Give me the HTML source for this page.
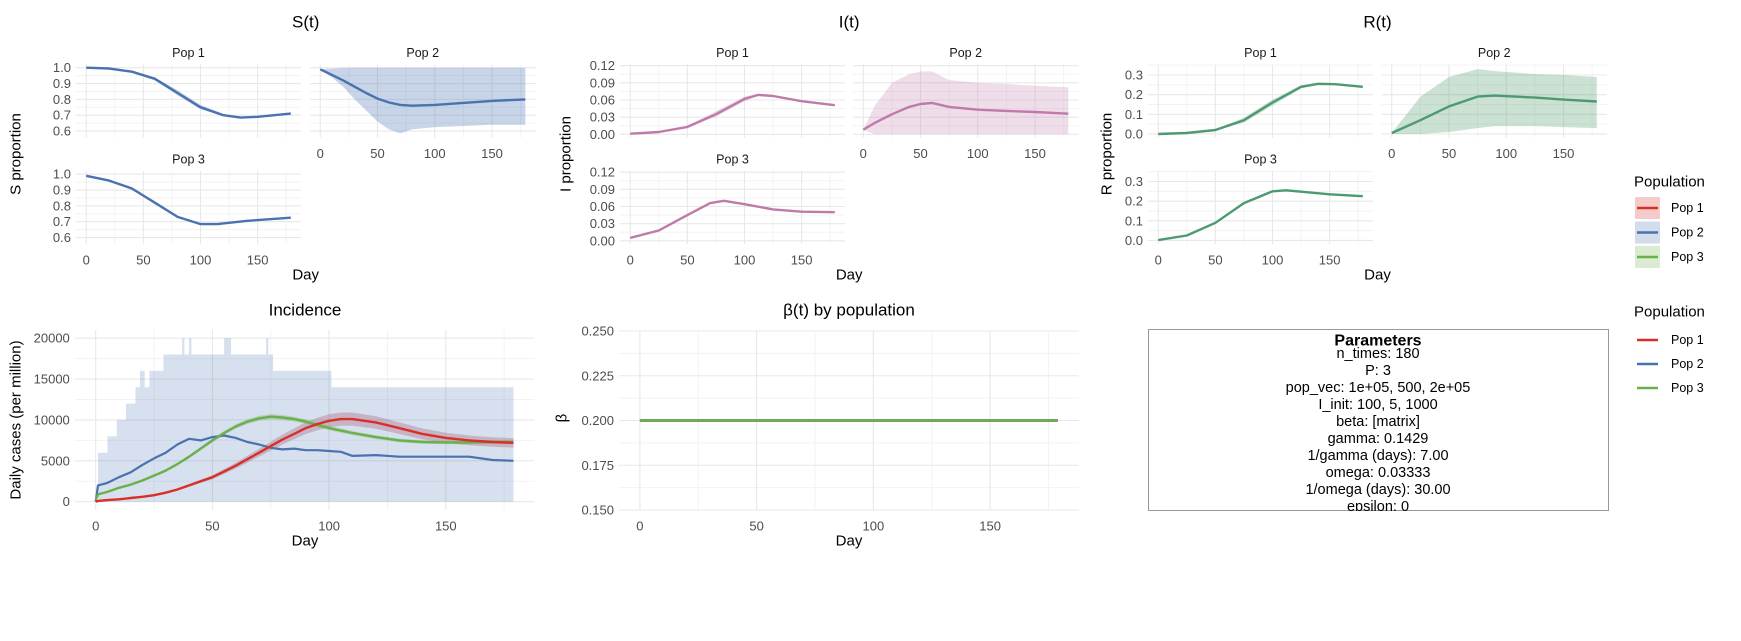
<!DOCTYPE html>
<html><head><meta charset="utf-8">
<style>
body{margin:0;background:#fff;}
svg text{font-family:"Liberation Sans",Arial,sans-serif;}
</style></head>
<body>
<svg id="chart" width="1741" height="636" viewBox="0 0 1741 636" xmlns="http://www.w3.org/2000/svg">
<rect width="1741" height="636" fill="#fff"/>
</svg>
<script>
// ---------- data ----------
const sDays1 = [0,20,40,60,80,100,120,135,150,179];
const sPop1 = [1.0,0.995,0.975,0.93,0.84,0.75,0.70,0.685,0.69,0.71];
const sPop1Lo = [1.0,0.994,0.972,0.922,0.825,0.738,0.695,0.683,0.689,0.709];
const sPop1Hi = [1.0,0.996,0.978,0.94,0.858,0.765,0.708,0.688,0.692,0.712];
const sDays2 = [0,10,20,30,40,50,60,70,80,100,120,150,179];
const sPop2 = [0.99,0.955,0.92,0.88,0.84,0.805,0.78,0.765,0.76,0.765,0.775,0.79,0.80];
const sPop2Lo = [0.99,0.94,0.88,0.80,0.73,0.66,0.61,0.585,0.61,0.625,0.63,0.64,0.64];
const sPop2Hi = [0.99,0.995,0.998,1.0,1.0,1.0,1.0,1.0,1.0,1.0,1.0,1.0,1.0];
const sDays3 = [0,20,40,60,80,100,115,140,179];
const sPop3 = [0.99,0.96,0.91,0.82,0.73,0.685,0.685,0.705,0.725];

const iDays1 = [0,25,50,75,100,112,125,150,179];
const iPop1 = [0.001,0.004,0.013,0.035,0.062,0.069,0.067,0.058,0.051];
const iPop1Lo = [0.001,0.004,0.012,0.031,0.058,0.067,0.066,0.057,0.050];
const iPop1Hi = [0.001,0.005,0.015,0.040,0.066,0.071,0.068,0.059,0.052];
const iDays2 = [0,10,25,40,50,60,75,100,125,150,179];
const iPop2 = [0.008,0.02,0.035,0.048,0.053,0.055,0.048,0.043,0.041,0.039,0.036];
const iPop2Lo = [0.008,0.0,0.0,0.0,0.0,0.0,0.0,0.0,0.0,0.0,0.0];
const iPop2Hi = [0.008,0.05,0.09,0.105,0.11,0.11,0.095,0.09,0.088,0.085,0.082];
const iDays3 = [0,25,50,70,82,100,125,150,179];
const iPop3 = [0.005,0.018,0.045,0.066,0.07,0.064,0.055,0.051,0.050];

const rDays1 = [0,25,50,75,100,125,140,155,179];
const rPop1 = [0,0.005,0.02,0.07,0.16,0.24,0.255,0.253,0.24];
const rPop1Lo = [0,0.004,0.017,0.058,0.145,0.232,0.253,0.252,0.239];
const rPop1Hi = [0,0.006,0.024,0.082,0.175,0.248,0.258,0.254,0.241];
const rDays2 = [0,25,50,75,90,125,150,179];
const rPop2 = [0.005,0.07,0.14,0.19,0.195,0.185,0.175,0.165];
const rPop2Lo = [0.0,0.0,0.01,0.03,0.04,0.04,0.035,0.03];
const rPop2Hi = [0.005,0.19,0.29,0.33,0.32,0.305,0.30,0.29];
const rDays3 = [0,25,50,75,100,112,150,179];
const rPop3 = [0.002,0.025,0.09,0.19,0.25,0.255,0.235,0.225];

const incDays = [0,1,5,10,15,20,25,30,35,40,45,50,55,60,65,70,75,80,85,90,95,100,105,110,120,130,140,150,160,170,179];
const incPop1 = [0,100,200,300,450,600,800,1100,1500,2000,2500,3000,3700,4400,5200,6000,6800,7600,8300,9000,9500,9900,10100,10100,9700,9000,8300,7800,7500,7300,7200];
const incPop2 = [0,2000,2300,3000,3600,4500,5300,6000,7000,7700,7500,7900,8100,7800,7300,7000,6600,6400,6500,6300,6300,6200,6100,5600,5700,5500,5500,5500,5500,5100,5000];
const incPop3 = [200,900,1200,1700,2100,2600,3200,3800,4600,5500,6500,7500,8400,9200,9800,10200,10400,10300,10100,9800,9400,9000,8700,8400,7900,7500,7300,7250,7250,7300,7300];
const incRibDays = [0,1,5,9,13,17,19,21,23,29,33,37,38,40,41,55,57,58,63,67,73,74,76,80,100,101,179];
const incRibHi = [0,6000,8000,10000,12000,14000,16000,14000,16000,18000,18000,20000,18000,20000,18000,20000,20000,18000,18000,18000,20000,18000,16000,16000,16000,14000,14000];

const betaDays = [0,179];
const betaPop1 = [0.2,0.2];
const betaPop2 = [0.2,0.2];
const betaPop3 = [0.2,0.2];

// ---------- helpers ----------
const svg = document.getElementById('chart');
const NS = 'http://www.w3.org/2000/svg';
function mk(tag, attrs, parent){
  const e = document.createElementNS(NS, tag);
  for (const k in attrs) e.setAttribute(k, attrs[k]);
  (parent||svg).appendChild(e);
  return e;
}
function txt(str, x, y, size, color, anchor, parent, extra){
  const t = mk('text', Object.assign({x:x, y:y, 'font-size':size, fill:color, 'text-anchor':anchor||'middle', 'dominant-baseline':'central'}, extra||{}), parent);
  t.textContent = str;
  return t;
}
function linePath(xs, ys, sx, sy){
  return xs.map((d,i)=>(i?'L':'M')+sx(d).toFixed(1)+','+sy(ys[i]).toFixed(1)).join('');
}
function ribbonPath(xs, lo, hi, sx, sy){
  let p = xs.map((d,i)=>(i?'L':'M')+sx(d).toFixed(1)+','+sy(hi[i]).toFixed(1)).join('');
  for (let i=xs.length-1;i>=0;i--) p += 'L'+sx(xs[i]).toFixed(1)+','+sy(lo[i]).toFixed(1);
  return p+'Z';
}
function stepPath(xs, hi, sx, sy, base){
  let p = 'M'+sx(xs[0]).toFixed(1)+','+sy(base).toFixed(1);
  for (let i=0;i<xs.length;i++){
    if (i>0) p += 'L'+sx(xs[i]).toFixed(1)+','+sy(hi[i-1]).toFixed(1);
    p += 'L'+sx(xs[i]).toFixed(1)+','+sy(hi[i]).toFixed(1);
  }
  p += 'L'+sx(xs[xs.length-1]).toFixed(1)+','+sy(base).toFixed(1)+'Z';
  return p;
}

// panel: left, right, top, bottom in px; xdom, ydom
function panel(name, L, R, T, B, xdom, ydom, yMajor, yLabels, yMinor, xMajor, xMinor, showX, showY){
  const g = mk('g', {});
  
  
  const sx = v => L + (v - xdom[0])/(xdom[1]-xdom[0])*(R-L);
  const sy = v => B - (v - ydom[0])/(ydom[1]-ydom[0])*(B-T);
  yMinor.forEach(v=>mk('line',{x1:L,x2:R,y1:sy(v),y2:sy(v),stroke:'#f3f3f3','stroke-width':1},g));
  xMinor.forEach(v=>mk('line',{x1:sx(v),x2:sx(v),y1:T,y2:B,stroke:'#f3f3f3','stroke-width':1},g));
  yMajor.forEach(v=>mk('line',{x1:L,x2:R,y1:sy(v),y2:sy(v),stroke:'#e8e8e8','stroke-width':1.1},g));
  xMajor.forEach(v=>mk('line',{x1:sx(v),x2:sx(v),y1:T,y2:B,stroke:'#e8e8e8','stroke-width':1.1},g));
  if (showY) yMajor.forEach((v,i)=>{
    const t = txt(yLabels[i], L-5, sy(v), 13, '#4d4d4d', 'end', g);
    
    
  });
  if (showX) xMajor.forEach(v=>{
    const t = txt(String(v), sx(v), B+16, 13, '#4d4d4d', 'middle', g);
    
    
  });
  return {g, sx, sy};
}
function addPath(g, d, fill, stroke, sw, opacity, name){
  const p = mk('path', {d:d, fill:fill, stroke:stroke, 'stroke-width':sw, 'fill-opacity':opacity, 'stroke-linejoin':'round'}, g);
  
  
  return p;
}

const XD = [-8.95, 187.95];
const xMaj = [0,50,100,150], xMin = [25,75,125,175];
const rowOff = 106.5;
const T1 = 64.4, B1 = 137.5;

// ---------- S(t) ----------
const sDom = [0.559, 1.021];
const sMaj = [0.6,0.7,0.8,0.9,1.0], sLab = ['0.6','0.7','0.8','0.9','1.0'], sMin = [0.65,0.75,0.85,0.95];
const SC = '#4a72b0';
let p = panel('s-pop1-panel', 76, 301, T1, B1, XD, sDom, sMaj, sLab, sMin, xMaj, xMin, false, true);
addPath(p.g, ribbonPath(sDays1, sPop1Lo, sPop1Hi, p.sx, p.sy), SC, 'none', 0, 0.3, 's-pop1-ribbon');
addPath(p.g, linePath(sDays1, sPop1, p.sx, p.sy), 'none', SC, 2.4, 1, 's-pop1-line');
p = panel('s-pop2-panel', 310, 535.5, T1, B1, XD, sDom, sMaj, sLab, sMin, xMaj, xMin, true, false);
addPath(p.g, ribbonPath(sDays2, sPop2Lo, sPop2Hi, p.sx, p.sy), SC, 'none', 0, 0.3, 's-pop2-ribbon');
addPath(p.g, linePath(sDays2, sPop2, p.sx, p.sy), 'none', SC, 2.4, 1, 's-pop2-line');
p = panel('s-pop3-panel', 76, 301, T1+rowOff, B1+rowOff, XD, sDom, sMaj, sLab, sMin, xMaj, xMin, true, true);
addPath(p.g, linePath(sDays3, sPop3, p.sx, p.sy), 'none', SC, 2.4, 1, 's-pop3-line');

// ---------- I(t) ----------
const iDom = [-0.0056, 0.1223];
const iMaj = [0,0.03,0.06,0.09,0.12], iLab = ['0.00','0.03','0.06','0.09','0.12'], iMin = [0.015,0.045,0.075,0.105];
const IC = '#c07aa9';
p = panel('i-pop1-panel', 620, 845, T1, B1, XD, iDom, iMaj, iLab, iMin, xMaj, xMin, false, true);
addPath(p.g, ribbonPath(iDays1, iPop1Lo, iPop1Hi, p.sx, p.sy), IC, 'none', 0, 0.3, 'i-pop1-ribbon');
addPath(p.g, linePath(iDays1, iPop1, p.sx, p.sy), 'none', IC, 2.4, 1, 'i-pop1-line');
p = panel('i-pop2-panel', 853, 1078.5, T1, B1, XD, iDom, iMaj, iLab, iMin, xMaj, xMin, true, false);
addPath(p.g, ribbonPath(iDays2, iPop2Lo, iPop2Hi, p.sx, p.sy), IC, 'none', 0, 0.25, 'i-pop2-ribbon');
addPath(p.g, linePath(iDays2, iPop2, p.sx, p.sy), 'none', IC, 2.4, 1, 'i-pop2-line');
p = panel('i-pop3-panel', 620, 845, T1+rowOff, B1+rowOff, XD, iDom, iMaj, iLab, iMin, xMaj, xMin, true, true);
addPath(p.g, linePath(iDays3, iPop3, p.sx, p.sy), 'none', IC, 2.4, 1, 'i-pop3-line');

// ---------- R(t) ----------
const rDom = [-0.018, 0.3539];
const rMaj = [0,0.1,0.2,0.3], rLab = ['0.0','0.1','0.2','0.3'], rMin = [0.05,0.15,0.25,0.35];
const RC = '#4e9a70';
p = panel('r-pop1-panel', 1148, 1373, T1, B1, XD, rDom, rMaj, rLab, rMin, xMaj, xMin, false, true);
addPath(p.g, ribbonPath(rDays1, rPop1Lo, rPop1Hi, p.sx, p.sy), RC, 'none', 0, 0.3, 'r-pop1-ribbon');
addPath(p.g, linePath(rDays1, rPop1, p.sx, p.sy), 'none', RC, 2.4, 1, 'r-pop1-line');
p = panel('r-pop2-panel', 1381.5, 1607, T1, B1, XD, rDom, rMaj, rLab, rMin, xMaj, xMin, true, false);
addPath(p.g, ribbonPath(rDays2, rPop2Lo, rPop2Hi, p.sx, p.sy), RC, 'none', 0, 0.3, 'r-pop2-ribbon');
addPath(p.g, linePath(rDays2, rPop2, p.sx, p.sy), 'none', RC, 2.4, 1, 'r-pop2-line');
p = panel('r-pop3-panel', 1148, 1373, T1+rowOff, B1+rowOff, XD, rDom, rMaj, rLab, rMin, xMaj, xMin, true, true);
addPath(p.g, linePath(rDays3, rPop3, p.sx, p.sy), 'none', RC, 2.4, 1, 'r-pop3-line');

// strip labels & titles (top row)
[[188.5,'s'],[422.7,'s'],[732.5,'i'],[965.7,'i'],[1260.5,'r'],[1494.2,'r']].forEach((c,i)=>{
  const lab = ['Pop 1','Pop 2'][i%2];
  const t = txt(lab, c[0], 53, 12.5, '#1a1a1a');
  
  
});
[188.5,732.5,1260.5].forEach(x=>{
  const t = txt('Pop 3', x, 159.5, 12.5, '#1a1a1a');
  
  
});
[['S(t)',305.7,'s-title'],['I(t)',849.2,'i-title'],['R(t)',1377.5,'r-title']].forEach(a=>{
  const t = txt(a[0], a[1], 22, 17, '#000');
  
  
});
[305.7,849.2,1377.5].forEach(x=>{
  const t = txt('Day', x, 275, 15, '#000');
  
  
});
[['S proportion',16,154],['I proportion',566,154],['R proportion',1107,154]].forEach(a=>{
  const t = txt(a[0], a[1], a[2], 15, '#000', 'middle', svg, {transform:'rotate(-90 '+a[1]+' '+a[2]+')'});
  
  
});

// ---------- Incidence ----------
const incXD = [-8.95, 187.95];
p = panel('incidence-panel', 74.8, 534.4, 330, 509.9, incXD, [-1000, 21000], [0,5000,10000,15000,20000], ['0','5000','10000','15000','20000'], [2500,7500,12500,17500], xMaj, xMin, true, true);
addPath(p.g, stepPath(incRibDays, incRibHi, p.sx, p.sy, 0), '#4a72b0', 'none', 0, 0.22, 'incidence-pop2-ribbon');
addPath(p.g, ribbonPath(incDays, incPop1.map(v=>v*0.92), incPop1.map(v=>v*1.08), p.sx, p.sy), '#a0506a', 'none', 0, 0.3, 'incidence-pop1-ribbon');
addPath(p.g, ribbonPath(incDays, incPop3.map(v=>v*0.97), incPop3.map(v=>v*1.03), p.sx, p.sy), '#6ab04c', 'none', 0, 0.3, 'incidence-pop3-ribbon');
addPath(p.g, linePath(incDays, incPop2, p.sx, p.sy), 'none', '#4a72b0', 2.2, 1, 'incidence-pop2-line');
addPath(p.g, linePath(incDays, incPop3, p.sx, p.sy), 'none', '#6ab04c', 2.4, 1, 'incidence-pop3-line');
addPath(p.g, linePath(incDays, incPop1, p.sx, p.sy), 'none', '#d73027', 2.4, 1, 'incidence-pop1-line');
let t = txt('Incidence', 305, 310, 17, '#000');  
t = txt('Day', 305, 541, 15, '#000');  
t = txt('Daily cases (per million)', 16, 420, 15, '#000', 'middle', svg, {transform:'rotate(-90 16 420)'});  

// ---------- Beta ----------
p = panel('beta-panel', 619, 1078.7, 331, 510, incXD, [0.15, 0.25], [0.15,0.175,0.2,0.225,0.25], ['0.150','0.175','0.200','0.225','0.250'], [0.1625,0.1875,0.2125,0.2375], xMaj, xMin, true, true);
addPath(p.g, linePath(betaDays, betaPop1, p.sx, p.sy), 'none', '#d73027', 2.4, 1, 'beta-pop1-line');
addPath(p.g, linePath(betaDays, betaPop2, p.sx, p.sy), 'none', '#4a72b0', 2.4, 1, 'beta-pop2-line');
addPath(p.g, linePath(betaDays, betaPop3, p.sx, p.sy), 'none', '#6ab04c', 2.4, 1, 'beta-pop3-line');
t = txt('β(t) by population', 849, 310, 17, '#000');  
t = txt('Day', 849, 541, 15, '#000');  
t = txt('β', 562, 418, 15, '#000', 'middle', svg, {transform:'rotate(-90 562 418)'});  

// ---------- Parameters box ----------
const pg = mk('g', {});


const clip = mk('clipPath', {id:'pclip'}, pg);
mk('rect', {x:1148, y:329, width:461, height:182}, clip);
mk('rect', {x:1148.5, y:329.5, width:460, height:181, fill:'#fff', stroke:'#999', 'stroke-width':1}, pg);
const tg = mk('g', {'clip-path':'url(#pclip)'}, pg);
t = txt('Parameters', 1378, 341, 16, '#000', 'middle', tg, {'font-weight':'bold'});
 
const paramLines = ['n_times: 180','P: 3','pop_vec: 1e+05, 500, 2e+05','I_init: 100, 5, 1000','beta: [matrix]','gamma: 0.1429','1/gamma (days): 7.00','omega: 0.03333','1/omega (days): 30.00','epsilon: 0'];
paramLines.forEach((s,i)=>{
  const e = txt(s, 1378, 354 + i*17, 14.5, '#000', 'middle', tg);
  
  
});

// ---------- Legends ----------
const lg1 = mk('g', {});


txt('Population', 1634, 182, 15, '#000', 'start', lg1);
[['Pop 1','#d73027'],['Pop 2','#4a72b0'],['Pop 3','#6ab04c']].forEach((a,i)=>{
  const y = 197 + i*24.5;
  mk('rect', {x:1635, y:y, width:25, height:22, fill:a[1], 'fill-opacity':0.25}, lg1);
  mk('line', {x1:1637, x2:1658, y1:y+11, y2:y+11, stroke:a[1], 'stroke-width':2.4}, lg1);
  const e = txt(a[0], 1671, y+11, 12.5, '#000', 'start', lg1);
   
});
const lg2 = mk('g', {});


txt('Population', 1634, 312, 15, '#000', 'start', lg2);
[['Pop 1','#d73027'],['Pop 2','#4a72b0'],['Pop 3','#6ab04c']].forEach((a,i)=>{
  const y = 340 + i*24;
  mk('line', {x1:1637, x2:1658, y1:y, y2:y, stroke:a[1], 'stroke-width':2.4}, lg2);
  const e = txt(a[0], 1671, y, 12.5, '#000', 'start', lg2);
   
});
</script>
</body></html>
